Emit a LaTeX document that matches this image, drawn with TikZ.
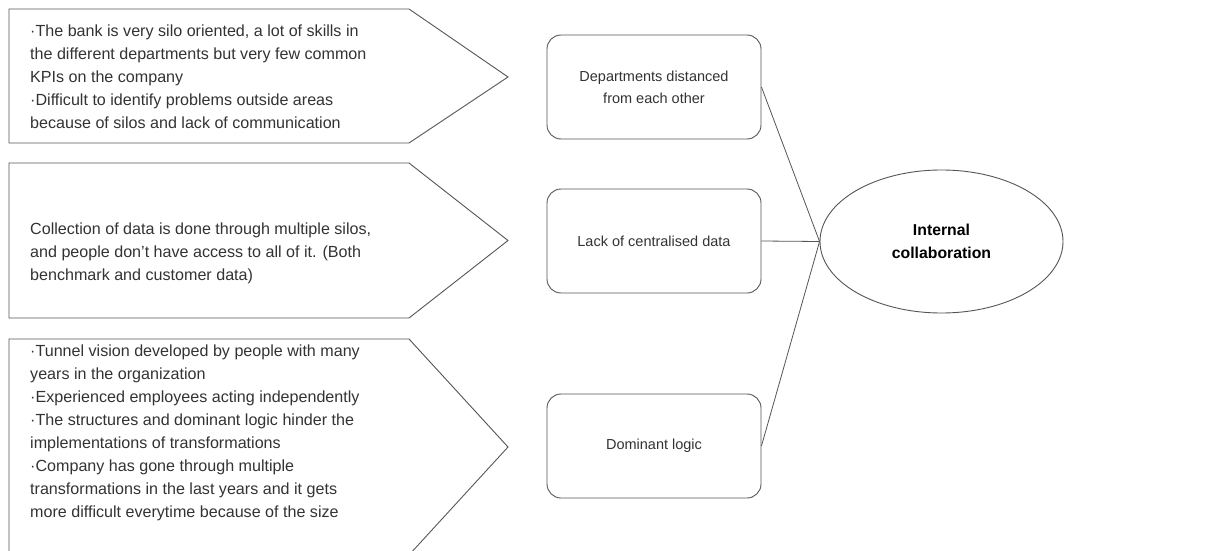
\documentclass[tikz,border=0pt]{standalone}
\usepackage{fontspec}
\setmainfont{Liberation Sans}
\usetikzlibrary{shapes.geometric}
\definecolor{linegray}{HTML}{555555}
\definecolor{textgray}{HTML}{333333}
\begin{document}
\begin{tikzpicture}[x=1pt,y=-1pt,
  pent/.style={draw=linegray, line width=0.9pt},
  penttext/.style={anchor=north west, inner sep=0pt, align=left, text=textgray,
    font=\fontsize{16.1}{23}\selectfont},
  cause/.style={draw=linegray, line width=0.9pt, rounded corners=14pt,
    minimum width=214pt, minimum height=104pt, inner sep=0pt, align=center,
    text=textgray, font=\fontsize{14.5}{22}\selectfont},
  goal/.style={draw=linegray, line width=0.9pt, ellipse, minimum width=243pt,
    minimum height=143pt, inner sep=0pt, align=center, text=black,
    font=\fontsize{15.8}{23}\selectfont\bfseries},
  edge/.style={draw=linegray, line width=0.8pt}]
\useasboundingbox (0,0) rectangle (1210,551);
\fill[white] (0,0) rectangle (1210,551);
% pentagons
\draw[pent] (9,9) -- (409,9) -- (508,77) -- (409,143) -- (9,143) -- cycle;
\draw[pent] (9,163) -- (409,163) -- (508,240.5) -- (409,318) -- (9,318) -- cycle;
\draw[pent] (9,339) -- (409,339) -- (508,447) -- (409,555) -- (9,555) -- cycle;
\node[penttext] (t1) at (30,24.5) {·The bank is very silo oriented, a lot of skills in\\
the different departments but very few common\\
KPIs on the company\\
·Difficult to identify problems outside areas\\
because of silos and lack of communication};
\node[penttext] (t2) at (30,222.5) {Collection of data is done through multiple silos,\\
and people don’t have access to all of it. (Both\\
benchmark and customer data)};
\node[penttext] (t3) at (30,344.5) {·Tunnel vision developed by people with many\\
years in the organization\\
·Experienced employees acting independently\\
·The structures and dominant logic hinder the\\
implementations of transformations\\
·Company has gone through multiple\\
transformations in the last years and it gets\\
more difficult everytime because of the size};
% cause boxes
\node[cause] (c1) at (654,87) {Departments distanced\\from each other};
\node[cause] (c2) at (654,241) {Lack of centralised data};
\node[cause] (c3) at (654,446) {Dominant logic};
% goal
\node[goal] (g) at (941.5,241.5) {Internal\\collaboration};
\draw[edge] (c1.east) -- (g.west);
\draw[edge] (c2.east) -- (g.west);
\draw[edge] (c3.east) -- (g.west);
\end{tikzpicture}
\end{document}
